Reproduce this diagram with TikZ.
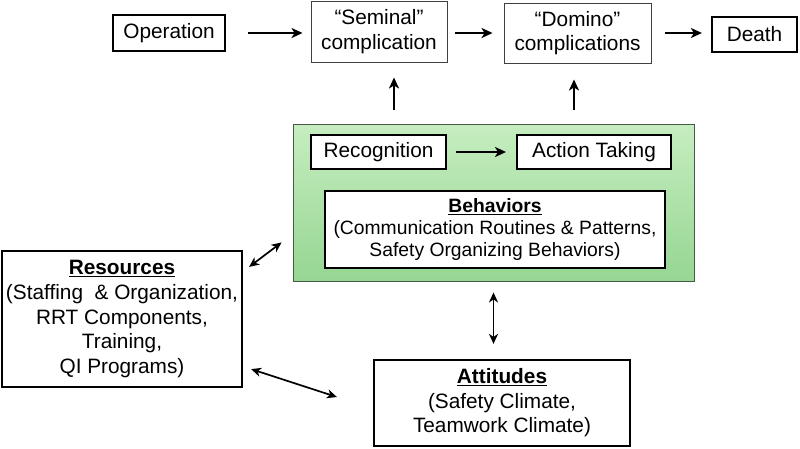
\documentclass[tikz,border=0pt]{standalone}
\usepackage{fontspec}
\setmainfont{Liberation Sans}
\usetikzlibrary{arrows.meta}
\definecolor{greentop}{RGB}{198,237,192}
\definecolor{greenbot}{RGB}{150,214,146}
\definecolor{greenline}{RGB}{70,90,70}

\tikzset{
  every node/.style={font=\fontsize{20.8}{24.6}\selectfont, align=center, inner sep=0pt},
  box/.style={draw, fill=white, line width=2.2pt},
  thinbox/.style={draw=black!75, fill=white, line width=0.9pt},
  flow/.style={-{Stealth[length=11pt,width=10pt,inset=3pt]}, line width=2.1pt},
  twoway/.style={{Stealth[length=10pt,width=9pt,inset=3pt]}-{Stealth[length=10pt,width=9pt,inset=3pt]}, line width=1.7pt}
}

\begin{document}
\begin{tikzpicture}[x=1pt,y=-1pt]
\useasboundingbox (0,0) rectangle (800,448);

% top row
\node[box, minimum width=112pt, minimum height=36pt] (op) at (169,33) {Operation};
\node[thinbox, minimum width=136pt, minimum height=61pt] (sem) at (379,31.5) {“Seminal”\\complication};
\node[thinbox, minimum width=147pt, minimum height=60pt] (dom) at (577.5,33) {“Domino”\\complications};
\node[box, minimum width=85pt, minimum height=35pt] (death) at (754.5,34.5) {Death};

% green block
\node[draw=greenline, line width=0.9pt, top color=greentop, bottom color=greenbot,
      minimum width=401pt, minimum height=157pt] (green) at (493.5,202.5) {};
\node[box, line width=2pt, minimum width=135pt, minimum height=34pt] (rec) at (378.5,152) {Recognition};
\node[box, line width=2pt, minimum width=154pt, minimum height=34pt] (act) at (594,152) {Action Taking};
\node[box, minimum width=340pt, minimum height=77pt, font=\fontsize{19.3}{22}\selectfont] (beh) at (495,229.5)
  {\underline{\textbf{Behaviors}}\\(Communication Routines \& Patterns,\\Safety Organizing Behaviors)};

% bottom
\node[box, minimum width=240pt, minimum height=136pt] (res) at (122,319)
  {\underline{\textbf{Resources}}\\(Staffing~ \& Organization,\\RRT Components,\\Training,\\QI Programs)};
\node[box, minimum width=256pt, minimum height=86pt] (att) at (502,403)
  {\underline{\textbf{Attitudes}}\\(Safety Climate,\\Teamwork Climate)};

\coordinate (semx) at (394,0);
\coordinate (domx) at (574,0);

\draw[flow, shorten <=22pt, shorten >=8pt] (op.east) -- (op.east -| sem.west);
\draw[flow, shorten <=8pt, shorten >=11pt] (sem.east |- dom.east) -- (dom.east -| dom.west);
\draw[flow, shorten <=14pt, shorten >=9pt] (dom.east) -- (dom.east -| death.west);
\draw[flow, shorten <=9pt, shorten >=10pt] (rec.east) -- (act.west);
\draw[flow, shorten <=14pt, shorten >=15pt] (green.north -| semx) -- (sem.south -| semx);
\draw[flow, shorten <=14pt, shorten >=16pt] (green.north -| domx) -- (dom.south -| domx);

\draw[twoway, shorten <=11pt, shorten >=15pt] (green.south) -- (green.south |- att.north);
\draw[twoway] ([xshift=6pt,yshift=-17pt]res.north east) -- ([xshift=-11pt,yshift=39pt]green.south west);
\draw[twoway] ([xshift=8pt,yshift=19pt]res.south east) -- ([xshift=-36pt,yshift=6pt]att.west);

\end{tikzpicture}
\end{document}
